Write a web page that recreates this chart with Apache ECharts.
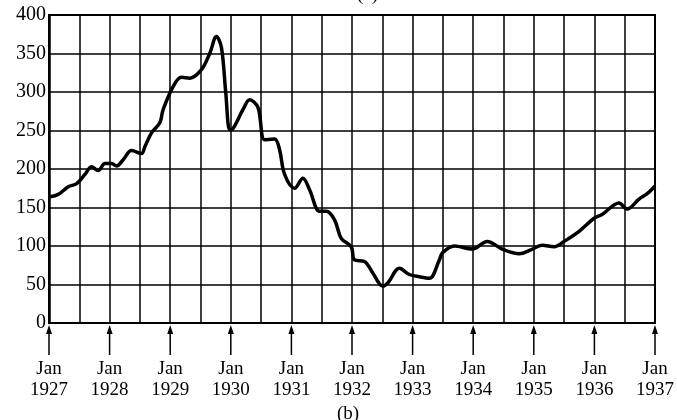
<!DOCTYPE html>
<html>
<head>
<meta charset="utf-8">
<script src="https://cdn.jsdelivr.net/npm/echarts@6/dist/echarts.min.js"></script>
<style>
html,body{margin:0;padding:0;background:#fff;}
#c{width:677px;height:420px;}
</style>
</head>
<body>
<div id="c"></div>
<script>
// time in fractional years
var times = [1927.016,1927.153,1927.318,1927.456,1927.593,1927.703,1927.812,1927.923,1928.033,1928.115,1928.224,1928.362,1928.527,1928.582,1928.692,1928.829,1928.883,1929.048,1929.186,1929.323,1929.516,1929.652,1929.763,1929.845,1929.916,1929.982,1930.031,1930.2,1930.311,1930.448,1930.558,1930.723,1930.805,1930.888,1931.053,1931.19,1931.3,1931.465,1931.575,1931.712,1931.822,1931.987,1932.041,1932.206,1932.343,1932.507,1932.59,1932.783,1932.947,1933.112,1933.277,1933.442,1933.491,1933.689,1933.985,1934.232,1934.479,1934.759,1934.952,1935.138,1935.336,1935.501,1935.748,1935.995,1936.127,1936.407,1936.539,1936.736,1936.871,1937.0];
var values = [164,167,177,181,193,203,198,207,207,204,212,224,220,229,247,260,277,307,319,318,329,350,372,358,300,251,252,277,290,280,238,239,225,193,175,188,173,145,145,134,110,99,82,80,65,48,52,71,63,60,58,82,91,100,96,106,96,90,95,101,99,106,119,136,141,156,148,161,168,178];
var arrowYears = [1927,1928,1929,1930,1931,1932,1933,1934,1935,1936,1937];

var pts = times.map(function(t,i){return [t, values[i]];});
var serif = '"Liberation Serif","DejaVu Serif",serif';
var chart = echarts.init(document.getElementById('c'));
chart.setOption({
  animation:false,
  backgroundColor:'#fff',
  title:[
    {text:'(a)', left:352, top:-19, textStyle:{fontFamily:serif,fontSize:19,fontWeight:'normal',color:'#000'}},
    {text:'(b)', left:332, top:400, textStyle:{fontFamily:serif,fontSize:19,fontWeight:'normal',color:'#000'}}
  ],
  grid:{left:49,right:21,top:15,bottom:97,show:true,borderColor:'#000',borderWidth:2,backgroundColor:'transparent'},
  xAxis:{
    type:'value',min:1927,max:1937,interval:0.5,
    axisLine:{show:true,lineStyle:{color:'#000',width:2}},
    axisTick:{show:false},
    splitLine:{show:true,lineStyle:{color:'#000',width:1.5}},
    axisLabel:{
      margin:36,color:'#000',fontFamily:serif,fontSize:19,lineHeight:21,
      formatter:function(v){return Number.isInteger(v)?('Jan\n'+v):'';}
    }
  },
  yAxis:{
    type:'value',min:0,max:400,interval:50,
    axisLine:{show:true,lineStyle:{color:'#000',width:2.5}},
    axisTick:{show:false},
    splitLine:{show:true,lineStyle:{color:'#000',width:1.5}},
    axisLabel:{margin:3,color:'#000',fontFamily:serif,fontSize:20}
  },
  series:[
    {type:'line',data:pts,smooth:0.35,showSymbol:false,lineStyle:{color:'#000',width:3.5},z:5},
    {type:'custom',clip:false,data:arrowYears.map(function(y){return [y,0];}),
     renderItem:function(params,api){
       var p=api.coord([api.value(0),0]);
       var x=p[0], y=p[1];
       return {type:'group',children:[
         {type:'line',shape:{x1:x,y1:y+6,x2:x,y2:y+32},style:{stroke:'#000',lineWidth:1.5}},
         {type:'polygon',shape:{points:[[x,y+2],[x-3,y+11],[x+3,y+11]]},style:{fill:'#000'}}
       ]};
     },z:6}
  ]
});
</script>
</body>
</html>
